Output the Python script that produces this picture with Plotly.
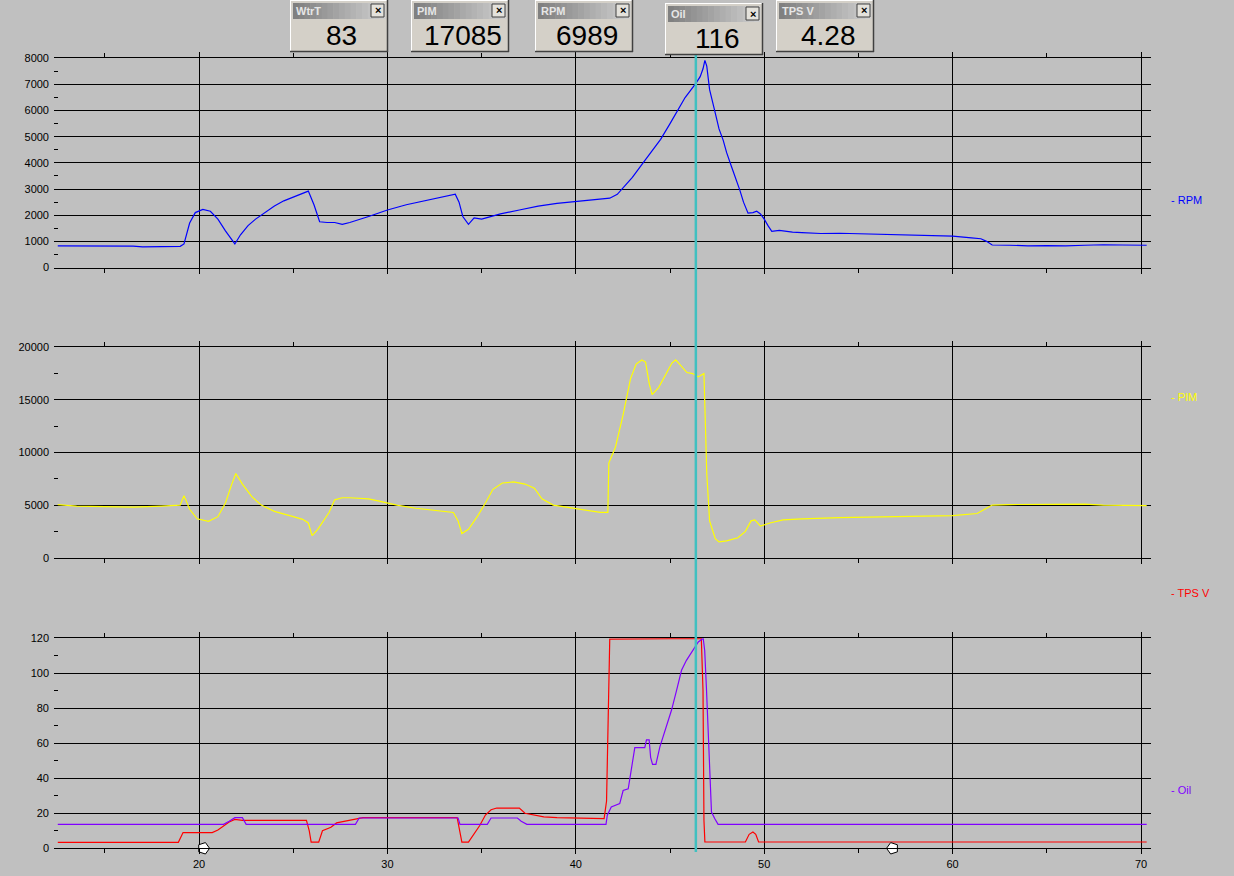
import plotly.graph_objects as go

W, H = 1234, 876

# ---------------- data ----------------
rpm_x = [12.5, 14, 15.5, 16.5, 17, 18, 19, 19.2, 19.5, 19.8, 20.2, 20.6, 21.0, 21.4, 21.7, 21.9,
         22.2, 22.6, 23.0, 23.5, 24.0, 24.5, 25.0, 25.5, 25.8, 26.1, 26.4, 26.8, 27.2, 27.6, 28.0,
         29.0, 30.0, 31.0, 32.0, 33.0, 33.6, 33.8, 34.0, 34.3, 34.6, 35.0, 35.5, 36.0, 37.0, 38.0,
         39.0, 40.0, 41.0, 41.8, 42.2, 42.5, 43.0, 43.5, 44.0, 44.5, 45.0, 45.4, 45.8, 46.37, 46.6,
         46.75, 46.85, 46.95, 47.1, 47.37, 47.6, 47.82, 48.0, 48.26, 48.5, 48.7, 48.9, 49.14, 49.4,
         49.6, 49.8, 50.0, 50.2, 50.4, 50.8, 51.5, 52, 53, 54, 55, 56, 57, 58, 59, 60, 61, 61.5,
         61.8, 62.1, 63, 64, 65, 66, 67, 68, 69, 70.3]
rpm_y = [830, 830, 840, 820, 790, 790, 810, 900, 1700, 2100, 2220, 2150, 1850, 1400, 1100, 900,
         1250, 1600, 1850, 2100, 2350, 2550, 2700, 2820, 2920, 2400, 1750, 1720, 1720, 1650, 1720,
         1950, 2200, 2400, 2550, 2720, 2800, 2500, 1950, 1650, 1900, 1850, 1950, 2050, 2200, 2350,
         2450, 2520, 2580, 2650, 2800, 3030, 3450, 3930, 4400, 4900, 5500, 6000, 6500, 7040, 7300,
         7600, 7920, 7700, 6800, 6000, 5300, 4870, 4400, 3860, 3400, 2970, 2500, 2080, 2100,
         2150, 2050, 1850, 1600, 1380, 1420, 1350, 1330, 1300, 1310, 1290, 1280, 1260, 1230, 1220, 1200, 1130, 1100,
         1000, 860, 850, 830, 840, 830, 850, 870, 860, 850]

pim_x = [12.5, 13.5, 15, 16.5, 18, 19.0, 19.2, 19.5, 19.9, 20.5, 21.0, 21.4, 21.7, 21.95, 22.3,
         22.8, 23.3, 24.0, 25.0, 25.5, 25.8, 26.0, 26.3, 26.6, 26.9, 27.2, 27.6, 28.0, 29.0, 29.5,
         30.5, 31.5, 32.5, 33.5, 33.75, 33.95, 34.3, 34.8, 35.2, 35.6, 36.1, 36.7, 37.3, 37.8, 38.2,
         38.8, 39.5, 40.5, 41.3, 41.7, 41.75, 42.1, 42.5, 42.9, 43.2, 43.5, 43.7, 43.9, 44.05, 44.4,
         44.8, 45.1, 45.3, 45.6, 45.9, 46.2, 46.5, 46.8, 46.95, 47.1, 47.4, 47.6, 48.0, 48.6, 49.0,
         49.3, 49.5, 49.8, 50.3, 51.0, 52, 54, 56, 58, 60, 61.3, 61.7, 62.1, 63, 65, 67, 68, 70.3]
pim_y = [5050, 4900, 4850, 4800, 4900, 5000, 5900, 4600, 3700, 3450, 3900, 5200, 6800, 8000, 7000,
         5800, 5000, 4400, 3900, 3650, 3300, 2100, 2700, 3500, 4300, 5500, 5700, 5700, 5600, 5400,
         5000, 4700, 4500, 4300, 3500, 2300, 2700, 4000, 5200, 6500, 7100, 7200, 7000, 6600, 5600,
         5000, 4800, 4500, 4300, 4300, 9000, 10500, 13500, 17000, 18400, 18800, 18600, 16500, 15500, 16200,
         17600, 18500, 18800, 18200, 17600, 17500, 17200, 17500, 8000, 3500, 1800, 1500, 1600, 1900, 2500,
         3500, 3600, 3000, 3300, 3600, 3700, 3800, 3850, 3950, 4000, 4200, 4600, 5000, 5050, 5050, 5100, 5000, 4950]

tps_x = [12.5, 18.9, 19.15, 20.7, 21.0, 21.3, 21.6, 21.9, 22.3, 25.7, 25.85, 25.95, 26.35, 26.55,
         27.0, 27.3, 27.8, 28.3, 28.7, 33.7, 33.85, 33.95, 34.3, 34.6, 34.9, 35.2, 35.5, 35.8, 37.0,
         37.3, 37.8, 38.3, 39.0, 41.5, 41.63, 41.72, 41.8, 46.66, 46.75, 46.8, 46.85, 49.0, 49.2,
         49.4, 49.55, 49.7, 70.3]
tps_y = [3.4, 3.4, 9, 9, 10.5, 13, 15, 16.5, 16, 16, 10, 3.5, 3.5, 10,
         12, 14.5, 15.5, 16.5, 17.5, 17.5, 10, 3.5, 3.5, 8, 13, 19, 22, 23, 23,
         20, 19, 18, 17.5, 17, 27, 85, 119.5, 120, 90, 16, 3.6, 3.6, 8,
         9.3, 8, 3.6, 3.6]

oil_x = [12.5, 21.3, 21.6, 21.9, 22.3, 22.5, 28.3, 28.5, 33.75, 33.85, 35.3, 35.5, 36.9, 37.1,
         37.4, 41.6, 41.67, 41.88, 42.33, 42.51, 42.78, 42.95, 43.13, 43.66, 43.75, 43.89, 43.97,
         44.07, 44.25, 44.46, 44.72, 45.08, 45.34, 45.61, 45.87, 46.23, 46.5, 46.76, 46.84, 46.93,
         47.07, 47.2, 47.37, 47.55, 70.3]
oil_y = [13.7, 13.7, 15.5, 17.5, 17.5, 13.7, 13.7, 17.3, 17.3, 13.7, 13.7, 17.3, 17.3, 15.5,
         13.7, 13.7, 18.9, 23.6, 25.5, 33, 34, 46.5, 57.5, 57.5, 62, 62, 52,
         48, 48, 58, 67.4, 79, 90, 101.7, 107.4, 113, 117.9, 120, 113, 92,
         54, 20.7, 17, 13.7, 13.7]

gauge_names = ["WtrT", "PIM", "RPM", "Oil", "TPS V"]
gauge_values = ["83", "17085", "6989", "116", "4.28"]
cursor_x = 46.37
range_markers = [20.24, 56.81]

# ---------------- layout helpers ----------------
gauge_left = [290, 411, 535, 665, 776]
gauge_top = [0, 0, 0, 3, 0]
BG = "#C0C0C0"
FONT = "Liberation Sans"


def fx(p):
    return p / W


def fy(p):
    return 1 - p / H


x_dom = [fx(54), fx(1151)]
x_rng = [12.3, 70.53]

fig = go.Figure()
fig.add_trace(go.Scatter(x=rpm_x, y=rpm_y, xaxis="x", yaxis="y", mode="lines",
                         line=dict(color="#0000FF", width=1.2), showlegend=False))
fig.add_trace(go.Scatter(x=pim_x, y=pim_y, xaxis="x2", yaxis="y2", mode="lines",
                         line=dict(color="#FFFF00", width=1.2), showlegend=False))
fig.add_trace(go.Scatter(x=tps_x, y=tps_y, xaxis="x3", yaxis="y3", mode="lines",
                         line=dict(color="#FF0000", width=1.2), showlegend=False))
fig.add_trace(go.Scatter(x=oil_x, y=oil_y, xaxis="x3", yaxis="y3", mode="lines",
                         line=dict(color="#8000FF", width=1.2), showlegend=False))
fig.add_trace(go.Scatter(x=range_markers, y=[0, 0], xaxis="x3", yaxis="y3", mode="markers",
                         marker=dict(symbol="pentagon", angle=[90, -90], size=12, color="white",
                                     line=dict(color="black", width=1)),
                         cliponaxis=False, showlegend=False))


def xax(anchor, labels):
    return dict(anchor=anchor, domain=x_dom, range=x_rng, showgrid=True, gridcolor="black",
                gridwidth=1, dtick=10, tick0=0, showticklabels=labels, ticks="outside", ticklen=5,
                tickcolor="black", showline=True, linecolor="black", linewidth=1, mirror="ticks",
                zeroline=False, automargin=False, tickfont=dict(family=FONT, size=11, color="black"),
                minor=dict(ticks="outside", ticklen=4, dtick=5, tick0=0, tickcolor="black", showgrid=False))


def yax(anchor, dom, rng, dt):
    return dict(anchor=anchor, domain=dom, range=rng, showgrid=True, gridcolor="black", gridwidth=1,
                dtick=dt, tick0=0, ticks="", showline=False, zeroline=False, mirror="ticks",
                tickformat="d", automargin=False,
                tickfont=dict(family=FONT, size=11, color="black"), ticklabelstandoff=4,
                minor=dict(ticks="inside", ticklen=4, dtick=dt / 2, tick0=0, tickcolor="black", showgrid=False))


shapes = []
annotations = []

# cursor
shapes.append(dict(type="line", xref="x3", yref="paper", x0=cursor_x, x1=cursor_x,
                   y0=fy(852), y1=fy(52), line=dict(color="#40C0C0", width=2.5), layer="above"))

# gauges
for i, (name, val) in enumerate(zip(gauge_names, gauge_values)):
    L = gauge_left[i]
    T = gauge_top[i]
    R = L + 98
    B = T + 52
    shapes.append(dict(type="rect", xref="paper", yref="paper", x0=fx(L), x1=fx(R), y0=fy(B), y1=fy(T),
                       fillcolor="#D4D0C8", line=dict(width=0), layer="above"))
    shapes.append(dict(type="line", xref="paper", yref="paper", x0=fx(L), x1=fx(R), y0=fy(T + 0.5), y1=fy(T + 0.5),
                       line=dict(color="#FFFFFF", width=1), layer="above"))
    shapes.append(dict(type="line", xref="paper", yref="paper", x0=fx(L + 0.5), x1=fx(L + 0.5), y0=fy(B), y1=fy(T),
                       line=dict(color="#FFFFFF", width=1), layer="above"))
    shapes.append(dict(type="line", xref="paper", yref="paper", x0=fx(L), x1=fx(R), y0=fy(B - 0.5), y1=fy(B - 0.5),
                       line=dict(color="#404040", width=1.5), layer="above"))
    shapes.append(dict(type="line", xref="paper", yref="paper", x0=fx(R - 0.5), x1=fx(R - 0.5), y0=fy(B), y1=fy(T),
                       line=dict(color="#404040", width=1.5), layer="above"))
    # title bar gradient
    n = 16
    x0b, x1b = L + 3, R - 3
    for k in range(n):
        c = int(128 + (205 - 128) * k / (n - 1))
        shapes.append(dict(type="rect", xref="paper", yref="paper",
                           x0=fx(x0b + (x1b - x0b) * k / n), x1=fx(x0b + (x1b - x0b) * (k + 1) / n + 0.5),
                           y0=fy(T + 19), y1=fy(T + 3), fillcolor=f"rgb({c},{c},{c})",
                           line=dict(width=0), layer="above"))
    # close button
    shapes.append(dict(type="rect", xref="paper", yref="paper", x0=fx(R - 17), x1=fx(R - 4),
                       y0=fy(T + 17), y1=fy(T + 4), fillcolor="#E4E2DC",
                       line=dict(color="#404040", width=1), layer="above"))
    annotations.append(dict(text="<b>×</b>", xref="paper", yref="paper", x=fx(R - 10.5), y=fy(T + 10.5),
                            showarrow=False, font=dict(family=FONT, size=11, color="black"),
                            xanchor="center", yanchor="middle"))
    annotations.append(dict(text=f"<b>{name}</b>", xref="paper", yref="paper", x=fx(L + 4), y=fy(T + 11),
                            showarrow=False, font=dict(family=FONT, size=11, color="#E6E6E6"),
                            xanchor="left", yanchor="middle"))
    annotations.append(dict(text=val, xref="paper", yref="paper", x=fx((L + R) / 2 + 3), y=fy(T + 35),
                            showarrow=False, font=dict(family=FONT, size=28, color="black"),
                            xanchor="center", yanchor="middle"))

# right side series labels
for txt, col, yp in [("- RPM", "#0000FF", 200), ("- PIM", "#FFFF00", 397),
                     ("- TPS V", "#FF0000", 593), ("- Oil", "#8000FF", 790)]:
    annotations.append(dict(text=txt, xref="paper", yref="paper", x=fx(1169), y=fy(yp), showarrow=False,
                            font=dict(family=FONT, size=11, color=col), xanchor="left", yanchor="middle"))

fig.update_layout(
    width=W, height=H, autosize=False,
    margin=dict(l=0, r=0, t=0, b=0, pad=0, autoexpand=False),
    paper_bgcolor=BG, plot_bgcolor=BG,
    xaxis=xax("y", False),
    xaxis2=xax("y2", False),
    xaxis3=xax("y3", True),
    yaxis=yax("x", [fy(267.5), fy(58.3)], [0, 8000], 1000),
    yaxis2=yax("x2", [fy(557.7), fy(347.3)], [0, 20000], 5000),
    yaxis3=yax("x3", [fy(848.3), fy(638.3)], [0, 120], 20),
    shapes=shapes,
    annotations=annotations,
    showlegend=False,
)

fig.write_html(
    "out.html",
    config={"displayModeBar": False},
    post_script="document.body.style.margin='0px';document.body.style.padding='0px';"
                "document.body.style.overflow='hidden';document.body.style.background='#C0C0C0';",
)
